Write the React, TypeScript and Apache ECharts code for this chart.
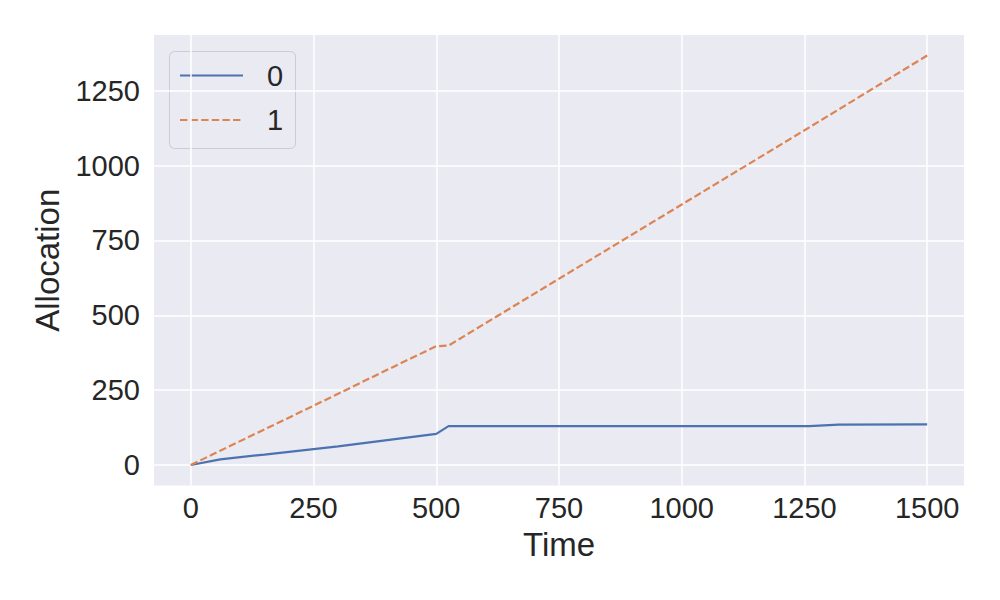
import React, { useEffect, useRef } from "react";
import * as echarts from "echarts";

const times = [0, 60, 150, 250, 300, 400, 500, 525, 1260, 1320, 1500];
const series0 = [0, 19, 35, 53, 62, 83, 104, 130, 130, 135, 136];
const series1 = [0, 48, 119, 198, 238, 318, 397, 399, 1128, 1188, 1368];
const seriesNames = ["0", "1"];
const xTicks = [0, 250, 500, 750, 1000, 1250, 1500];
const yTicks = [0, 250, 500, 750, 1000, 1250];

const FONT = "Liberation Sans, Arial, sans-serif";
const TXT = "#262626";
const BLUE = "#4C72B0";
const ORANGE = "#DD8452";
const DASH = [7.4, 3.2];

export default function App() {
  const ref = useRef<HTMLDivElement>(null);
  useEffect(() => {
    if (!ref.current) return;
    const chart = echarts.init(ref.current, undefined, { renderer: "svg" });
    const d0 = times.map((t, i) => [t, series0[i]]);
    const d1 = times.map((t, i) => [t, series1[i]]);
    chart.setOption({
      animation: false,
      backgroundColor: "#ffffff",
      grid: {
        left: 154,
        right: 36,
        top: 35,
        bottom: 114.5,
        show: true,
        backgroundColor: "#EAEAF2",
        borderWidth: 0,
      },
      xAxis: {
        type: "value",
        min: -75,
        max: 1575,
        name: "Time",
        nameLocation: "middle",
        nameGap: 42,
        nameTextStyle: { fontFamily: FONT, fontSize: 33, color: TXT },
        axisLine: { show: false },
        axisTick: { show: false, customValues: xTicks },
        axisLabel: {
          customValues: xTicks,
          formatter: (v: number) => String(v),
          fontFamily: FONT,
          fontSize: 29,
          color: TXT,
          margin: 8,
        },
        splitLine: { show: true, lineStyle: { color: "#ffffff", width: 1.5 } },
      },
      yAxis: {
        type: "value",
        min: -68.4,
        max: 1436.4,
        name: "Allocation",
        nameLocation: "middle",
        nameGap: 90,
        nameTextStyle: { fontFamily: FONT, fontSize: 33, color: TXT },
        axisLine: { show: false },
        axisTick: { show: false, customValues: yTicks },
        axisLabel: {
          customValues: yTicks,
          formatter: (v: number) => String(v),
          fontFamily: FONT,
          fontSize: 29,
          color: TXT,
          margin: 14,
        },
        splitLine: { show: true, lineStyle: { color: "#ffffff", width: 1.5 } },
      },
      series: [
        {
          name: seriesNames[0],
          type: "line",
          data: d0,
          showSymbol: false,
          symbol: "none",
          lineStyle: { color: BLUE, width: 2.2 },
          z: 3,
        },
        {
          name: seriesNames[1],
          type: "line",
          data: d1,
          showSymbol: false,
          symbol: "none",
          lineStyle: { color: ORANGE, width: 2.2, type: DASH },
          z: 3,
        },
      ],
      graphic: [
        {
          type: "group",
          z: 10,
          children: [
            {
              type: "rect",
              shape: { x: 169.5, y: 51.5, width: 126, height: 97, r: 5 },
              style: { fill: "rgba(234,234,242,0.8)", stroke: "#cccccc", lineWidth: 1 },
            },
            {
              type: "line",
              shape: { x1: 180, y1: 75.5, x2: 243, y2: 75.5 },
              style: { stroke: BLUE, lineWidth: 2.2 },
            },
            {
              type: "text",
              x: 275,
              y: 76,
              style: {
                text: seriesNames[0],
                fontFamily: FONT,
                fontSize: 29,
                fill: TXT,
                align: "center",
                verticalAlign: "middle",
              },
            },
            {
              type: "line",
              shape: { x1: 180, y1: 120, x2: 243, y2: 120 },
              style: { stroke: ORANGE, lineWidth: 2.2, lineDash: DASH },
            },
            {
              type: "text",
              x: 275,
              y: 120,
              style: {
                text: seriesNames[1],
                fontFamily: FONT,
                fontSize: 29,
                fill: TXT,
                align: "center",
                verticalAlign: "middle",
              },
            },
          ],
        },
      ],
    });
    return () => chart.dispose();
  }, []);
  return <div ref={ref} style={{ width: 1000, height: 600, position: "absolute", left: 0, top: 0 }} />;
}
